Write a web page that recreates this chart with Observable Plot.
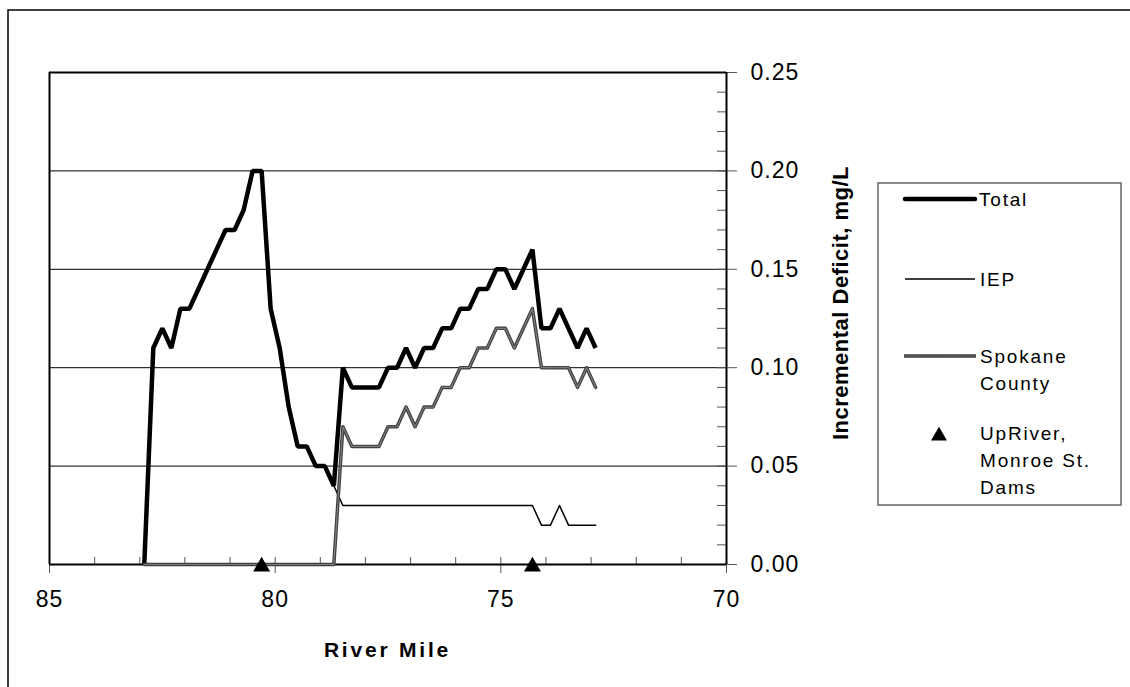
<!DOCTYPE html>
<html>
<head>
<meta charset="utf-8">
<script src="https://cdn.jsdelivr.net/npm/d3@7"></script>
<script src="https://cdn.jsdelivr.net/npm/@observablehq/plot@0.6"></script>
<style>
  html, body { margin: 0; padding: 0; background: white; }
  #chart svg { display: block; }
</style>
</head>
<body>
<div id="chart"></div>
<script>
// ---- data ----
const miles = [82.9, 82.7, 82.5, 82.3, 82.1, 81.9, 81.7, 81.5, 81.3, 81.1, 80.9, 80.7, 80.5, 80.3, 80.1,
  79.9, 79.7, 79.5, 79.3, 79.1, 78.9, 78.7, 78.5, 78.3, 78.1, 77.9, 77.7, 77.5, 77.3, 77.1, 76.9,
  76.7, 76.5, 76.3, 76.1, 75.9, 75.7, 75.5, 75.3, 75.1, 74.9, 74.7, 74.5, 74.3, 74.1, 73.9, 73.7,
  73.5, 73.3, 73.1, 72.9];
const total = [0, 0.11, 0.12, 0.11, 0.13, 0.13, 0.14, 0.15, 0.16, 0.17, 0.17, 0.18, 0.20, 0.20, 0.13,
  0.11, 0.08, 0.06, 0.06, 0.05, 0.05, 0.04, 0.10, 0.09, 0.09, 0.09, 0.09, 0.10, 0.10, 0.11, 0.10,
  0.11, 0.11, 0.12, 0.12, 0.13, 0.13, 0.14, 0.14, 0.15, 0.15, 0.14, 0.15, 0.16, 0.12, 0.12, 0.13,
  0.12, 0.11, 0.12, 0.11];
const iep = [0, 0.11, 0.12, 0.11, 0.13, 0.13, 0.14, 0.15, 0.16, 0.17, 0.17, 0.18, 0.20, 0.20, 0.13,
  0.11, 0.08, 0.06, 0.06, 0.05, 0.05, 0.04, 0.03, 0.03, 0.03, 0.03, 0.03, 0.03, 0.03, 0.03, 0.03,
  0.03, 0.03, 0.03, 0.03, 0.03, 0.03, 0.03, 0.03, 0.03, 0.03, 0.03, 0.03, 0.03, 0.02, 0.02, 0.03,
  0.02, 0.02, 0.02, 0.02];
const spokane = [0, 0, 0, 0, 0, 0, 0, 0, 0, 0, 0, 0, 0, 0, 0,
  0, 0, 0, 0, 0, 0, 0, 0.07, 0.06, 0.06, 0.06, 0.06, 0.07, 0.07, 0.08, 0.07,
  0.08, 0.08, 0.09, 0.09, 0.10, 0.10, 0.11, 0.11, 0.12, 0.12, 0.11, 0.12, 0.13, 0.10, 0.10, 0.10,
  0.10, 0.09, 0.10, 0.09];
const damMiles = [80.3, 74.3];
const xTicks = [85, 80, 75, 70];
const xMinor = [84, 83, 82, 81, 79, 78, 77, 76, 74, 73, 72, 71];
const yTicks = [0, 0.05, 0.10, 0.15, 0.20, 0.25];
const yGrid = [0.05, 0.10, 0.15, 0.20];
const yMinor = d3.range(1, 25).map(i => i / 100);
const seriesNames = ["Total", "IEP", "Spokane County", "UpRiver, Monroe St. Dams"];

const rows = (vals) => miles.map((m, i) => ({mile: m, v: vals[i]}));

const W = 1130, H = 687;
const mL = 49, mR = 404, mT = 72, mB = 123;
const innerW = W - mL - mR, innerH = H - mT - mB;
const font = "'Liberation Sans', Arial, sans-serif";
const tickFont = 23;

const chart = Plot.plot({
  width: W, height: H,
  marginLeft: mL, marginRight: mR, marginTop: mT, marginBottom: mB,
  x: {domain: [85, 70]},
  y: {domain: [0, 0.25]},
  style: {fontFamily: font, fontSize: tickFont + "px", letterSpacing: "1px", color: "black", background: "white", overflow: "visible"},
  marks: [
    Plot.ruleY(yGrid, {stroke: "black", strokeWidth: 1}),
    Plot.ruleX(xMinor, {insetTop: innerH - 7, stroke: "#555"}),
    Plot.ruleX(xTicks, {insetTop: innerH - 7, stroke: "#555"}),
    Plot.ruleY(yMinor, {insetLeft: innerW - 9, stroke: "#555"}),
    Plot.ruleY([0.25], {stroke: "black", strokeWidth: 2}),
    Plot.ruleX([85], {stroke: "black", strokeWidth: 2}),
    Plot.axisX({ticks: xTicks, tickSize: 9, tickPadding: 17, tickFormat: d => String(d), stroke: "#555", fontSize: tickFont, label: null}),
    Plot.axisY({anchor: "right", ticks: yTicks, tickSize: 10, tickPadding: 14, tickFormat: d => d.toFixed(2), stroke: "#555", fontSize: tickFont, label: null}),
    Plot.ruleX([70], {stroke: "black", strokeWidth: 2}),
    Plot.ruleY([0], {stroke: "black", strokeWidth: 2}),
    Plot.line(rows(total), {x: "mile", y: "v", stroke: "black", strokeWidth: 4.5, strokeLinejoin: "miter", strokeLinecap: "butt"}),
    Plot.line(rows(iep), {x: "mile", y: "v", stroke: "black", strokeWidth: 1.5}),
    Plot.line(rows(spokane), {x: "mile", y: "v", stroke: "#404040", strokeWidth: 3.5}),
    Plot.line(rows(spokane), {x: "mile", y: "v", stroke: "#858585", strokeWidth: 1.2, strokeDasharray: "1.2,1.3"}),
    Plot.dot(damMiles, {x: d => d, y: () => 0, symbol: "triangle", r: 6.3, fill: "black", stroke: "none", dy: 2})
  ]
});

document.getElementById("chart").appendChild(chart);

const svg = d3.select(chart);
svg.selectAll("text")
  .attr("font-size", tickFont)
  .style("font-size", tickFont + "px")
  .style("font-family", font)
  .style("letter-spacing", "1px");

// ---- extra annotation: outer border, axis titles, legend ----
svg.insert("rect", ":first-child")
  .attr("x", 8).attr("y", 10).attr("width", W + 20).attr("height", H + 20)
  .attr("fill", "none").attr("stroke", "black").attr("stroke-width", 1.5);

svg.append("text")
  .attr("x", mL + innerW / 2).attr("y", 657)
  .attr("text-anchor", "middle")
  .attr("font-family", font).attr("font-weight", "bold").attr("font-size", 21)
  .attr("letter-spacing", "2.8px")
  .text("River Mile");

svg.append("text")
  .attr("transform", `translate(848,${303}) rotate(-90)`)
  .attr("text-anchor", "middle")
  .attr("font-family", font).attr("font-weight", "bold").attr("font-size", 22)
  .attr("letter-spacing", "0.5px")
  .text("Incremental Deficit, mg/L");

const lg = svg.append("g").attr("font-family", font).attr("font-size", 19)
  .attr("letter-spacing", "1.8px").attr("text-anchor", "start");
lg.append("rect").attr("x", 878).attr("y", 183).attr("width", 243).attr("height", 322)
  .attr("fill", "white").attr("stroke", "#666").attr("stroke-width", 1.5);
// Total
lg.append("line").attr("x1", 905).attr("x2", 975).attr("y1", 199).attr("y2", 199)
  .attr("stroke", "black").attr("stroke-width", 4.5).attr("stroke-linecap", "round");
lg.append("text").attr("x", 979).attr("y", 206).text(seriesNames[0]);
// IEP
lg.append("line").attr("x1", 905).attr("x2", 975).attr("y1", 279).attr("y2", 279)
  .attr("stroke", "black").attr("stroke-width", 1.5);
lg.append("text").attr("x", 980).attr("y", 286).text(seriesNames[1]);
// Spokane County
lg.append("line").attr("x1", 904).attr("x2", 976).attr("y1", 356).attr("y2", 356)
  .attr("stroke", "#404040").attr("stroke-width", 3.5);
lg.append("line").attr("x1", 904).attr("x2", 976).attr("y1", 356).attr("y2", 356)
  .attr("stroke", "#858585").attr("stroke-width", 1.2).attr("stroke-dasharray", "1.2,1.3");
const sp = lg.append("text").attr("x", 980).attr("y", 363);
sp.append("tspan").attr("x", 980).text("Spokane");
sp.append("tspan").attr("x", 980).attr("dy", 27).text("County");
// Dams
lg.append("path").attr("d", d3.symbol(d3.symbolTriangle, 110)()).attr("transform", "translate(939,436)").attr("fill", "black");
const dm = lg.append("text").attr("x", 980).attr("y", 440);
dm.append("tspan").attr("x", 980).text("UpRiver,");
dm.append("tspan").attr("x", 980).attr("dy", 27).text("Monroe St.");
dm.append("tspan").attr("x", 980).attr("dy", 27).text("Dams");
</script>
</body>
</html>
